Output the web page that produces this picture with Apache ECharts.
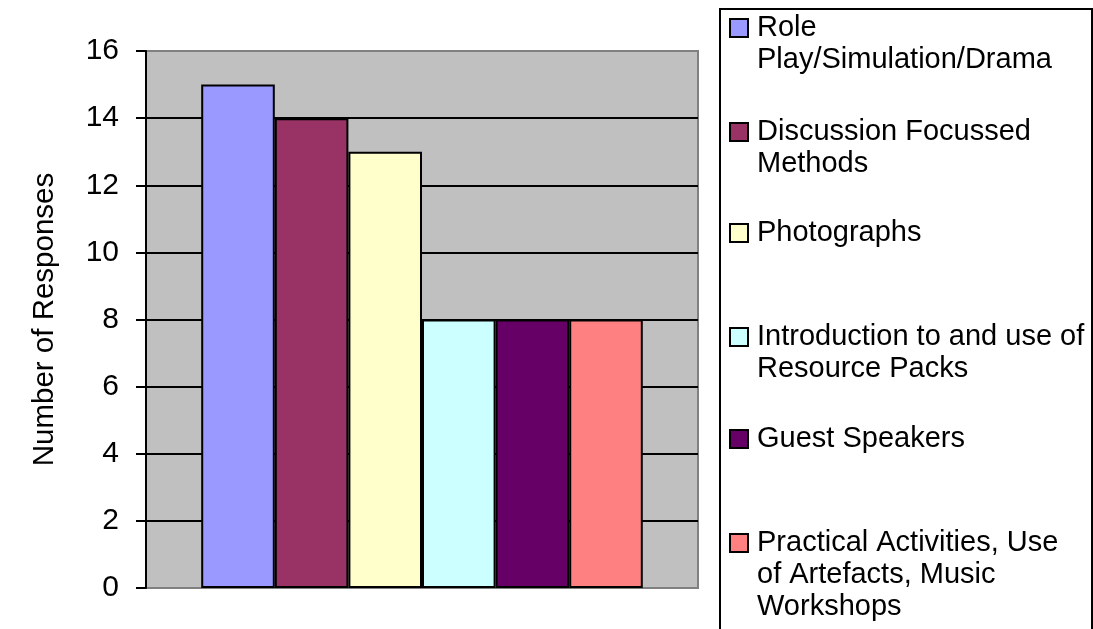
<!DOCTYPE html>
<html>
<head>
<meta charset="utf-8">
<script src="https://cdn.jsdelivr.net/npm/echarts@6/dist/echarts.min.js"></script>
<style>
  html, body { margin: 0; padding: 0; background: #fff; }
  #chart { width: 1093px; height: 629px; }
</style>
</head>
<body>
<div id="chart"></div>
<script>
// series names (one bar per method) and the legend text, split as in the picture
const methods = [
  "Role Play/Simulation/Drama",
  "Discussion Focussed Methods",
  "Photographs",
  "Introduction to and use of Resource Packs",
  "Guest Speakers",
  "Practical Activities, Use of Artefacts, Music Workshops"
];
const legendLines = [
  ["Role", "Play/Simulation/Drama"],
  ["Discussion Focussed", "Methods"],
  ["Photographs"],
  ["Introduction to and use of", "Resource Packs"],
  ["Guest Speakers"],
  ["Practical Activities, Use", "of Artefacts, Music", "Workshops"]
];
const responses = [15, 14, 13, 8, 8, 8];
const colors = ["#9999FF", "#993366", "#FFFFCC", "#CCFFFF", "#660066", "#FF8080"];

const font = "Liberation Sans, Arial, sans-serif";
const lineH = 32;
// vertical centre of each legend marker
const legendCentres = [28, 132, 233, 337, 439, 543];

const chart = echarts.init(document.getElementById("chart"));

// the marker sits on the first line: pad the text with blank lines above
// so the (centred) marker lines up with it
const legends = methods.map(function (name, i) {
  const n = legendLines[i].length;
  const blanks = [];
  for (let k = 1; k < n; k++) blanks.push("\u00a0");
  return {
    orient: "vertical",
    left: 729,
    top: legendCentres[i] - (2 * n - 1) * lineH / 2,
    padding: 0,
    data: [name],
    icon: "rect",
    itemWidth: 18,
    itemHeight: 18,
    itemGap: 0,
    selectedMode: false,
    itemStyle: { borderColor: "#000", borderWidth: 2 },
    formatter: function () { return blanks.concat(legendLines[i]).join("\n"); },
    textStyle: {
      fontFamily: font,
      fontSize: 29,
      color: "#000",
      lineHeight: lineH,
      padding: [0, 0, 0, 4]
    }
  };
});

const option = {
  animation: false,
  backgroundColor: "#fff",
  grid: {
    left: 146,
    top: 51,
    right: 395,
    bottom: 41,
    show: true,
    backgroundColor: "#C0C0C0",
    borderColor: "#808080",
    borderWidth: 2
  },
  graphic: [{
    type: "rect",
    left: 719,
    top: 8,
    z: -1,
    shape: { width: 372, height: 640 },
    style: { fill: "#fff", stroke: "#000", lineWidth: 2 }
  }],
  legend: legends,
  xAxis: {
    type: "category",
    data: [""],
    axisLine: { show: false },
    axisTick: { show: false },
    axisLabel: { show: false },
    splitLine: { show: false }
  },
  yAxis: {
    type: "value",
    min: 0,
    max: 16,
    interval: 2,
    name: "Number of Responses",
    nameLocation: "middle",
    nameRotate: 90,
    nameGap: 86,
    nameTextStyle: { fontFamily: font, fontSize: 29.5, color: "#000" },
    axisLine: { show: true, lineStyle: { color: "#000", width: 2 } },
    axisTick: { show: true, length: 10, lineStyle: { color: "#000", width: 2 } },
    axisLabel: { fontFamily: font, fontSize: 30, color: "#000", margin: 27 },
    splitLine: {
      show: true,
      showMinLine: false,
      showMaxLine: false,
      lineStyle: { color: "#000", width: 2 }
    }
  },
  series: methods.map(function (name, i) {
    return {
      name: name,
      type: "bar",
      data: [responses[i]],
      barGap: "0%",
      barCategoryGap: "20%",
      itemStyle: { color: colors[i], borderColor: "#000", borderWidth: 2 }
    };
  })
};

chart.setOption(option);
</script>
</body>
</html>
